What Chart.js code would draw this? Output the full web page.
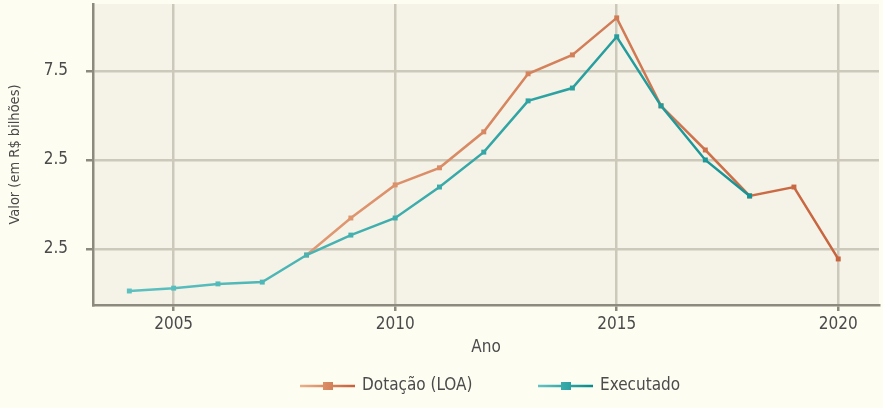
<!DOCTYPE html>
<html>
<head>
<meta charset="utf-8">
<script src="https://cdn.jsdelivr.net/npm/chart.js@4.4.1/dist/chart.umd.min.js"></script>
<style>
  html, body { margin: 0; padding: 0; background: #fefdf2; }
  #wrap { width: 883px; height: 408px; }
</style>
</head>
<body>
<div id="wrap"><canvas id="chart" width="883" height="408"></canvas></div>
<script>
"use strict";

// data (R$ bilhões)
var years = [2004, 2005, 2006, 2007, 2008, 2009, 2010, 2011, 2012, 2013, 2014, 2015, 2016, 2017, 2018, 2019, 2020];
var dotacao = [null, null, null, null, 2.33, 3.37, 4.30, 4.78, 5.79, 7.42, 7.95, 8.99, 6.52, 5.28, 3.99, 4.24, 2.22];
var executado = [1.32, 1.40, 1.52, 1.57, 2.33, 2.89, 3.37, 4.24, 5.22, 6.66, 7.02, 8.46, 6.52, 5.00, 3.99, null, null];
var xTicks = [2005, 2010, 2015, 2020];
var yTicks = [2.5, 5, 7.5];
var yTickLabels = ['2.5', '2.5', '7.5'];

var FONT = '"DejaVu Sans Condensed", sans-serif';
var TEXT = '#4b4b4b';
var GRID = '#ccc8ba';
var AXIS = '#8c897e';
var ORANGE = ['#eab089', '#c5603a'];
var TEAL = ['#62c3c3', '#078a8a'];

function toPoints(vals) {
  return years.map(function (y, i) { return { x: y, y: vals[i] }; });
}

function areaGradient(colors) {
  return function (c) {
    var a = c.chart.chartArea;
    if (!a) return colors[1];
    var g = c.chart.ctx.createLinearGradient(a.left, 0, a.right, 0);
    g.addColorStop(0, colors[0]);
    g.addColorStop(1, colors[1]);
    return g;
  };
}

var plotBg = {
  id: 'plotBg',
  beforeDraw: function (chart) {
    var a = chart.chartArea, ctx = chart.ctx;
    ctx.save();
    ctx.fillStyle = '#f5f3e8';
    ctx.fillRect(a.left, a.top, a.right - a.left, a.bottom - a.top);
    ctx.restore();
  }
};

// legend below the axis: gradient line sample with a square, then the label
var lineLegend = {
  id: 'lineLegend',
  afterDraw: function (chart, args, opts) {
    var ctx = chart.ctx;
    ctx.save();
    ctx.font = '17px ' + FONT;
    ctx.textBaseline = 'middle';
    chart.data.datasets.forEach(function (ds, i) {
      var x = opts.x[i], y = opts.y, w = 55;
      var g = ctx.createLinearGradient(x, 0, x + w, 0);
      g.addColorStop(0, ds.legendColors[0]);
      g.addColorStop(1, ds.legendColors[1]);
      ctx.strokeStyle = g;
      ctx.lineWidth = 2.5;
      ctx.beginPath(); ctx.moveTo(x, y); ctx.lineTo(x + w, y); ctx.stroke();
      ctx.fillStyle = g;
      ctx.fillRect(x + 23, y - 4, 10, 8);
      ctx.fillStyle = TEXT;
      ctx.fillText(ds.label, x + w + 7, y);
    });
    ctx.restore();
  }
};

new Chart(document.getElementById('chart').getContext('2d'), {
  type: 'line',
  data: {
    datasets: [{
      label: 'Dotação (LOA)',
      data: toPoints(dotacao),
      legendColors: ORANGE,
      borderColor: areaGradient(ORANGE),
      backgroundColor: areaGradient(ORANGE),
      pointBackgroundColor: areaGradient(ORANGE),
      pointBorderWidth: 0,
      pointStyle: 'rect',
      pointRadius: 3.5,
      borderWidth: 2.5,
      tension: 0,
      order: 2
    }, {
      label: 'Executado',
      data: toPoints(executado),
      legendColors: TEAL,
      borderColor: areaGradient(TEAL),
      backgroundColor: areaGradient(TEAL),
      pointBackgroundColor: areaGradient(TEAL),
      pointBorderWidth: 0,
      pointStyle: 'rect',
      pointRadius: 3.5,
      borderWidth: 2.5,
      tension: 0,
      order: 1
    }]
  },
  options: {
    responsive: false,
    animation: false,
    devicePixelRatio: 1,
    layout: { padding: { top: 4, right: 1, left: 0, bottom: 0 } },
    plugins: {
      tooltip: { enabled: false },
      legend: { display: false },
      lineLegend: { x: [300, 538], y: 386 }
    },
    scales: {
      x: {
        type: 'linear',
        min: 2003.18,
        max: 2020.92,
        afterBuildTicks: function (s) { s.ticks = xTicks.map(function (v) { return { value: v }; }); },
        afterFit: function (s) { s.height = 103; },
        ticks: { color: TEXT, font: { family: FONT, size: 17 }, padding: 3, maxRotation: 0,
          callback: function (v) { return String(v); } },
        grid: { color: GRID, lineWidth: 2.5, tickLength: 6, tickColor: AXIS },
        border: { display: true, color: AXIS, width: 2.5 },
        title: { display: true, text: 'Ano', color: TEXT, font: { family: FONT, size: 17 }, padding: { top: 0, bottom: 50 } }
      },
      y: {
        min: 0.927,
        max: 9.38,
        afterBuildTicks: function (s) { s.ticks = yTicks.map(function (v) { return { value: v }; }); },
        afterFit: function (s) { s.width = 93; s.paddingTop = 0; s.paddingBottom = 0; },
        ticks: { color: TEXT, font: { family: FONT, size: 17 }, padding: 18,
          callback: function (v, i) { return yTickLabels[i]; } },
        grid: { color: GRID, lineWidth: 2.5, tickLength: 7, tickColor: AXIS },
        border: { display: true, color: AXIS, width: 2.5 },
        title: { display: true, text: 'Valor (em R$ bilhões)', color: TEXT, font: { family: FONT, size: 14.5 }, padding: { top: 7, bottom: 0 } }
      }
    }
  },
  plugins: [plotBg, lineLegend]
});
</script>
</body>
</html>
